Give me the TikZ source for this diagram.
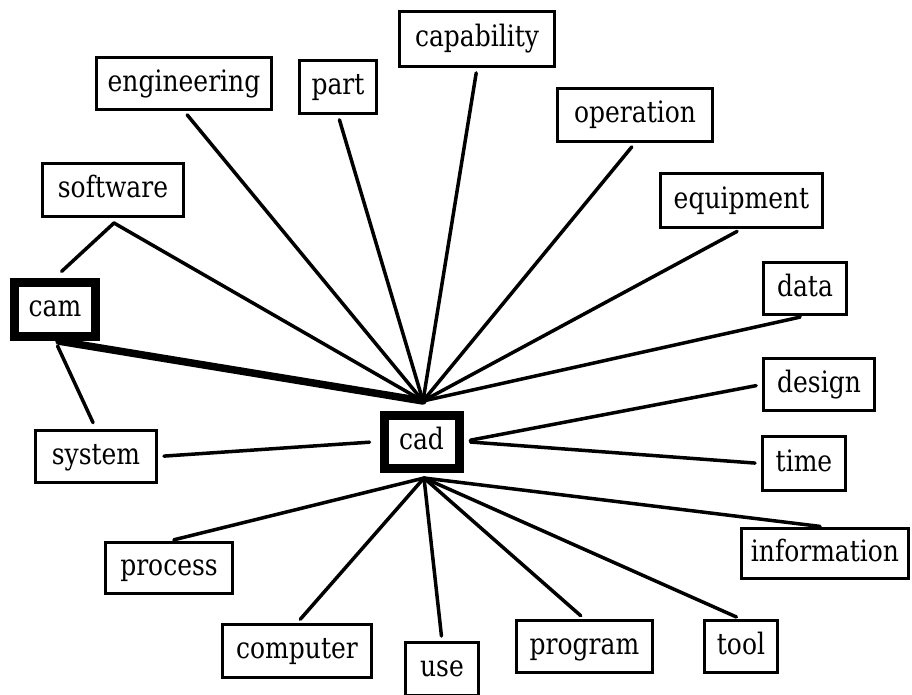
\documentclass[tikz,border=0pt]{standalone}
\usepackage{fontspec}
\usepackage{graphicx}
\setmainfont{DejaVu Serif}
% taller letterforms, as in the screen font of the figure
\newcommand\stretchword[1]{\scalebox{1}[1.18]{#1}}
\begin{document}
\begin{tikzpicture}[x=1pt,y=-1pt,
  word/.style={draw, line width=3pt, inner sep=0pt,
    text height=21.5pt, text depth=6.5pt,
    font=\fontsize{25}{30}\selectfont, minimum height=52pt},
  hubword/.style={word, line width=9pt},
  link/.style={line width=3.5pt, line cap=round},
  heavylink/.style={line width=7.5pt, line cap=round}]
\useasboundingbox (0,0) rectangle (912,694);
\fill[white] (0,0) rectangle (912,694);

% central terms
\node[hubword, minimum width=75pt, minimum height=53pt] (cad) at (421.5,441.5) {\stretchword{cad}};
\node[hubword, minimum width=81pt, minimum height=54pt] (cam) at (55,309) {\stretchword{cam}};

% associated terms
\node[word, minimum width=155pt, minimum height=55pt] (capability) at (477,39) {\stretchword{capability}};
\node[word, minimum width=175pt] (engineering) at (184,83.5) {\stretchword{engineering}};
\node[word, minimum width=77pt, minimum height=53pt] (part) at (338,87) {\stretchword{part}};
\node[word, minimum width=141pt, minimum height=53pt] (software) at (113,190) {\stretchword{software}};
\node[word, minimum width=155pt, minimum height=53pt] (operation) at (635,115) {\stretchword{operation}};
\node[word, minimum width=162pt, minimum height=54pt] (equipment) at (741.5,200.5) {\stretchword{equipment}};
\node[word, minimum width=83pt] (data) at (805,288.5) {\stretchword{data}};
\node[word, minimum width=111pt] (design) at (819,384.5) {\stretchword{design}};
\node[word, minimum width=83pt, minimum height=54pt] (time) at (804,463.5) {\stretchword{time}};
\node[word, minimum width=167pt, minimum height=50pt] (information) at (825,553.5) {\stretchword{information}};
\node[word, minimum width=121pt] (system) at (96,456.5) {\stretchword{system}};
\node[word, minimum width=127pt, minimum height=51pt] (process) at (169,568) {\stretchword{process}};
\node[word, minimum width=149pt, minimum height=53pt] (computer) at (297,651) {\stretchword{computer}};
\node[word, minimum width=73pt, minimum height=53pt] (use) at (442,669) {\stretchword{use}};
\node[word, minimum width=136pt] (program) at (584.5,646.5) {\stretchword{program}};
\node[word, minimum width=73pt] (tool) at (741,646.5) {\stretchword{tool}};

% meeting points of the fans above and below cad
\coordinate (hubN) at (423,401);
\coordinate (hubS) at (424,478);
\coordinate (swfork) at (114,223);

% links into the top of cad
\draw[heavylink, shorten <=4pt] (cam.south) -- (hubN);
\draw[link] (swfork) -- (hubN);
\draw[link, shorten <=5pt] (engineering.south) -- (hubN);
\draw[link, shorten <=5pt] (part.south) -- (hubN);
\draw[link, shorten <=5pt] (capability.south) -- (hubN);
\draw[link, shorten <=5pt] (operation.south) -- (hubN);
\draw[link, shorten <=5pt] (equipment.south) -- (hubN);
\draw[link, shorten <=5pt] (data.south) -- (hubN);

% links at the sides of cad
\draw[link, shorten <=6pt, shorten >=10pt] (system.east) -- (cad.west);
\draw[link, shorten <=6pt, shorten >=7pt] (design.west) -- (cad.east);
\draw[link, shorten <=6pt, shorten >=7pt] (time.west) -- (cad.east);

% links out of the bottom of cad
\draw[link, shorten <=5pt] (process.north) -- (hubS);
\draw[link, shorten <=5pt] (computer.north) -- (hubS);
\draw[link, shorten <=5pt] (use.north) -- (hubS);
\draw[link, shorten <=5pt] (program.north) -- (hubS);
\draw[link, shorten <=5pt] (tool.north) -- (hubS);
\draw[link, shorten <=5pt] (information.north) -- (hubS);

% links around cam
\draw[link, shorten <=1pt] (software.south) ++(1,6) -- (swfork);
\draw[link, shorten >=9pt] (swfork) -- (cam.north);
\draw[link, shorten <=6pt, shorten >=7pt] (cam.south) -- (system.north);
\end{tikzpicture}
\end{document}
